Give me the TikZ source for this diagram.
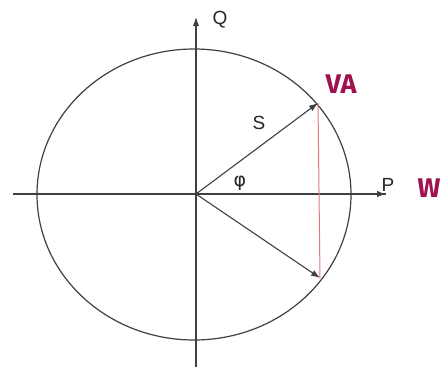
\documentclass[tikz,border=0pt]{standalone}
\usepackage{fontspec}
\setmainfont{Liberation Sans}
\newfontfamily\labfont{Fira Sans}
\newfontfamily\phifont{DejaVu Sans}
\usetikzlibrary{arrows.meta}
\definecolor{lineg}{HTML}{404040}
\definecolor{redl}{HTML}{E07A7A}
\definecolor{magen}{HTML}{A0124E}
\tikzset{
  axisline/.style={draw=lineg, line width=1.2pt},
  vecline/.style={draw=lineg, line width=1.1pt, -{Latex[length=9pt,width=6.5pt]}},
  axlab/.style={font=\fontsize{19}{19}\selectfont, text=black!85, inner sep=0pt},
  unitlab/.style={font=\labfont\bfseries\fontsize{27}{27}\selectfont, text=magen, inner sep=0pt},
}
\begin{document}
\begin{tikzpicture}[x=1pt,y=-1pt]
\useasboundingbox (0,0) rectangle (441,367);
\fill[white] (0,0) rectangle (441,367);
% axes
\coordinate (O) at (196,194);
\coordinate (xl) at (13,194);
\coordinate (xr) at (386,194);
\coordinate (yb) at (196,367);
\coordinate (yt) at (196,17);
\draw[axisline] (xl) -- (xr);
\draw[axisline, -{Latex[length=9pt,width=6.5pt]}] (O) -- (xr);
\draw[axisline, -{Latex[length=9pt,width=6.5pt]}] (yb) -- (yt);
% circle
\draw[lineg, line width=1.2pt] (194,194.5) ellipse [x radius=157, y radius=145.5];
% vectors
\coordinate (A) at (318,103);
\coordinate (B) at (320,278);
\draw[vecline] (O) -- (A);
\draw[vecline] (O) -- (B);
\draw[redl, line width=1.0pt] (A) -- (B);
% labels
\node[axlab] (q) at (220,20) {Q};
\node[axlab] (p) at (388,185) {P};
\node[axlab] (s) at (259,123) {S};
\node[inner sep=0pt, text=black!85, font=\phifont\fontsize{19}{19}\selectfont] (phi) at (240,183) {φ};
\node[unitlab] (va) at (341,84) {VA};
\node[unitlab] (w) at (429,188) {W};
\end{tikzpicture}
\end{document}
